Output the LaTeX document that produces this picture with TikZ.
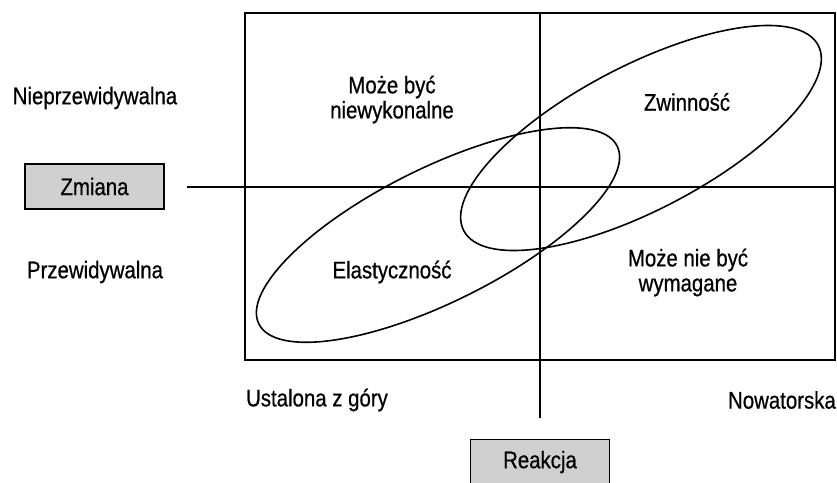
\documentclass[tikz,border=0pt]{standalone}
\usepackage{fontspec}
\setmainfont{Liberation Sans}[FakeStretch=0.85, FakeBold=0.6]
\begin{document}
\begin{tikzpicture}[x=1pt,y=-1pt,
  every node/.style={font=\fontsize{24}{25}\selectfont, inner sep=0pt, align=center},
  axis/.style={line width=1.6pt},
  frame/.style={line width=1.4pt},
  tag/.style={draw, line width=1.4pt, fill=gray!37, minimum width=139pt, minimum height=45pt},
  loop/.style={line width=1.6pt}]
  \useasboundingbox (0,0) rectangle (837,482);

  % quadrant frame
  \draw[frame] (245,13) rectangle (835,360);

  % axes
  \coordinate (hl) at (187,187);
  \coordinate (hr) at (835,187);
  \coordinate (vt) at (540,13);
  \coordinate (vb) at (540,418);
  \draw[axis] (hl) -- (hr);
  \draw[axis] (vt) -- (vb);

  % overlapping regions
  \coordinate (E) at (438,235);
  \coordinate (Z) at (641,138);
  \draw[loop, rotate around={26.4:(E)}] (E) ellipse [x radius=200pt, y radius=67pt];
  \draw[loop, rotate around={27.6:(Z)}] (Z) ellipse [x radius=200pt, y radius=72pt];

  % axis tags
  \node[tag] (zmiana) at (94.5,186.5) {Zmiana};
  \node[tag] (reakcja) at (540,462) {Reakcja};

  % axis labels
  \node (nieprzew) at (95,98) {Nieprzewidywalna};
  \node (przew) at (95,272) {Przewidywalna};
  \node (ustalona) at (317,400) {Ustalona z góry};
  \node[anchor=east] (nowat) at (836,400) {Nowatorska};

  % quadrant labels
  \node (q1) at (392,99.5) {Może być\\niewykonalne};
  \node (q2) at (687,102) {Zwinność};
  \node (q3) at (392,272) {Elastyczność};
  \node (q4) at (688,272.5) {Może nie być\\wymagane};
\end{tikzpicture}
\end{document}
